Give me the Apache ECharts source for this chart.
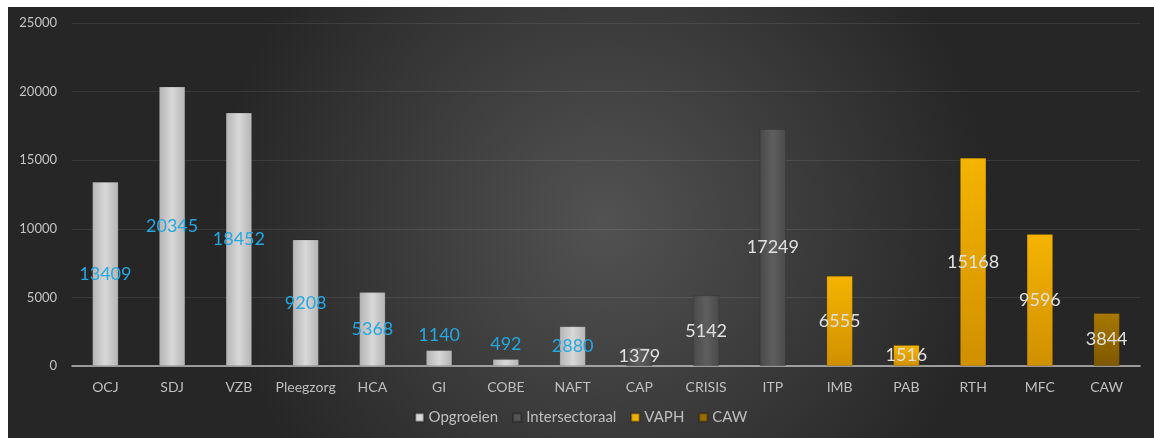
<!DOCTYPE html>
<html>
<head>
<meta charset="utf-8">
<script src="https://cdn.jsdelivr.net/npm/echarts@6/dist/echarts.min.js"></script>
<style>
  html, body { margin: 0; padding: 0; background: #ffffff; width: 1154px; height: 438px; overflow: hidden; }
  #chart { position: absolute; left: 8px; top: 7px; width: 1146px; height: 431px; }
</style>
</head>
<body>
<div id="chart"></div>
<script>
const categories = ['OCJ','SDJ','VZB','Pleegzorg','HCA','GI','COBE','NAFT','CAP','CRISIS','ITP','IMB','PAB','RTH','MFC','CAW'];
const opgroeien      = [13409,20345,18452,9208,5368,1140,492,2880,null,null,null,null,null,null,null,null];
const intersectoraal = [null,null,null,null,null,null,null,null,1379,5142,17249,null,null,null,null,null];
const vaph           = [null,null,null,null,null,null,null,null,null,null,null,6555,1516,15168,9596,null];
const caw            = [null,null,null,null,null,null,null,null,null,null,null,null,null,null,null,3844];
const yTicks = { min: 0, max: 25000, interval: 5000 };

const fontFam = 'Lato, "Open Sans", sans-serif';

function hGrad(edge, mid) {
  return new echarts.graphic.LinearGradient(0, 0, 1, 0, [
    { offset: 0, color: edge }, { offset: 0.5, color: mid }, { offset: 1, color: edge }
  ]);
}

// Excel "best fit": labels that do not fit inside a short bar sit just above it
function toItems(data) {
  return data.map(v => v == null ? null : (v < 1300 ? { value: v, label: { position: 'top', distance: 6 } } : v));
}

function mkSeries(name, data, color, labelColor) {
  return {
    name: name,
    type: 'bar',
    stack: 'all',
    barWidth: 26,
    data: toItems(data),
    itemStyle: { color: color, borderColor: 'rgba(0,0,0,0.25)', borderWidth: 0.5 },
    label: {
      show: true,
      position: 'inside',
      color: labelColor,
      fontSize: 18,
      fontFamily: fontFam,
      formatter: p => (p.value == null ? '' : String(p.value))
    }
  };
}

const chart = echarts.init(document.getElementById('chart'));
chart.setOption({
  backgroundColor: new echarts.graphic.RadialGradient(0.52, 0.5, 0.9, [
    { offset: 0, color: '#525252' },
    { offset: 1, color: '#262626' }
  ]),
  animation: false,
  grid: { left: 64, right: 14, top: 16, bottom: 72, containLabel: false },
  legend: {
    bottom: 8,
    left: 'center',
    itemWidth: 8,
    itemHeight: 8,
    itemGap: 14,
    icon: 'rect',
    textStyle: { color: '#bfbfbf', fontSize: 15, fontFamily: fontFam },
    data: [
      { name: 'Opgroeien', itemStyle: { color: '#d9d9d9' } },
      { name: 'Intersectoraal', itemStyle: { color: '#555555' } },
      { name: 'VAPH', itemStyle: { color: '#f0b000' } },
      { name: 'CAW', itemStyle: { color: '#9a6c00' } }
    ]
  },
  xAxis: {
    type: 'category',
    data: categories,
    axisLine: { lineStyle: { color: '#bfbfbf', width: 1.5 } },
    axisTick: { show: false },
    axisLabel: { color: '#bfbfbf', fontSize: 14, fontFamily: fontFam, margin: 14, interval: 0 }
  },
  yAxis: {
    type: 'value',
    min: yTicks.min, max: yTicks.max, interval: yTicks.interval,
    axisLine: { show: false },
    axisTick: { show: false },
    axisLabel: { color: '#c4c4c4', fontSize: 13, fontFamily: fontFam, margin: 15, formatter: v => String(v) },
    splitLine: { lineStyle: { color: 'rgba(255,255,255,0.09)', width: 1 } }
  },
  series: [
    mkSeries('Opgroeien', opgroeien, hGrad('#b4b4b4', '#d8d8d8'), '#25a7e0'),
    mkSeries('Intersectoraal', intersectoraal, hGrad('#4a4a4a', '#5e5e5e'), '#e0e0e0'),
    mkSeries('VAPH', vaph, new echarts.graphic.LinearGradient(0, 0, 0, 1, [
      { offset: 0, color: '#f5b400' }, { offset: 1, color: '#d09000' }
    ]), '#e0e0e0'),
    mkSeries('CAW', caw, new echarts.graphic.LinearGradient(0, 0, 0, 1, [
      { offset: 0, color: '#a87800' }, { offset: 1, color: '#7e5800' }
    ]), '#e0e0e0')
  ]
});
</script>
</body>
</html>
